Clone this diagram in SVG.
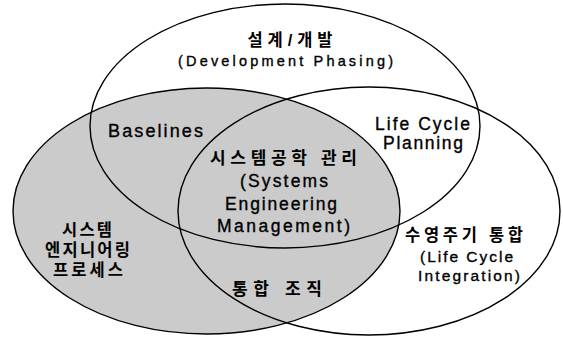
<svg xmlns="http://www.w3.org/2000/svg" width="563" height="337" viewBox="0 0 563 337">
  <style>
    .ring { fill: none; stroke: #000; stroke-width: 1.4; }
    .en { font-family: "Liberation Sans", Arial, sans-serif; font-size: 17.5px; fill: #000; stroke: #000; stroke-width: 0.35; text-anchor: middle; }
    .ko { font-family: "Liberation Sans", "Noto Sans CJK KR", sans-serif; font-size: 16.5px; font-weight: 700; fill: #000; text-anchor: middle; }
  </style>
  <rect width="563" height="337" fill="#fff"/>
  <g id="process-fill">
    <ellipse cx="206.5" cy="211" rx="193.5" ry="123" fill="#cbcbcb"/>
  </g>
  <g id="ellipses">
    <ellipse id="design" class="ring" cx="285" cy="126" rx="195" ry="122"/>
    <ellipse id="process" class="ring" cx="206.5" cy="211" rx="193.5" ry="123"/>
    <ellipse id="integration" class="ring" cx="369" cy="211" rx="191" ry="124"/>
  </g>
  <g id="node-design">
    <text class="ko" x="290" y="46" textLength="85" lengthAdjust="spacing">설계/개발</text>
    <text class="en" x="285.5" y="66" style="font-size:14.5px" textLength="215" lengthAdjust="spacing">(Development Phasing)</text>
  </g>
  <g id="node-baselines">
    <text class="en" x="155.5" y="137" style="font-size:18px" textLength="95" lengthAdjust="spacing">Baselines</text>
  </g>
  <g id="node-lcp">
    <text class="en" x="422.5" y="130" textLength="95" lengthAdjust="spacing">Life Cycle</text>
    <text class="en" x="423" y="149" textLength="80" lengthAdjust="spacing">Planning</text>
  </g>
  <g id="node-sem">
    <text class="ko" x="283.5" y="164" style="font-size:17px" textLength="147" lengthAdjust="spacing">시스템공학 관리</text>
    <text class="en" x="284" y="187" textLength="88" lengthAdjust="spacing">(Systems</text>
    <text class="en" x="281" y="210" textLength="112" lengthAdjust="spacing">Engineering</text>
    <text class="en" x="283.5" y="232" textLength="133" lengthAdjust="spacing">Management)</text>
  </g>
  <g id="node-process">
    <text class="ko" x="87" y="236" textLength="50" lengthAdjust="spacing">시스템</text>
    <text class="ko" x="87.5" y="256" textLength="85" lengthAdjust="spacing">엔지니어링</text>
    <text class="ko" x="88" y="276" textLength="70" lengthAdjust="spacing">프로세스</text>
  </g>
  <g id="node-integration">
    <text class="ko" x="464" y="241" textLength="118" lengthAdjust="spacing">수영주기 통합</text>
    <text class="en" x="466.5" y="262" style="font-size:15.5px" textLength="93" lengthAdjust="spacing">(Life Cycle</text>
    <text class="en" x="469" y="281" style="font-size:15.5px" textLength="102" lengthAdjust="spacing">Integration)</text>
  </g>
  <g id="node-org">
    <text class="ko" x="277" y="295" style="font-size:17px" textLength="90" lengthAdjust="spacing">통합 조직</text>
  </g>
</svg>
